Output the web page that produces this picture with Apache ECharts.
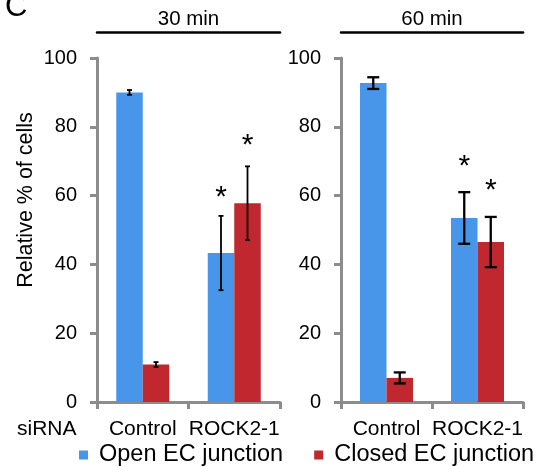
<!DOCTYPE html>
<html><head><meta charset="utf-8">
<script src="https://cdn.jsdelivr.net/npm/echarts@6/dist/echarts.min.js"></script>
<style>html,body{margin:0;padding:0;background:#fff}#c{width:544px;height:467px}</style>
</head><body><div id="c"></div>
<script>
const categories = ['Control', 'ROCK2-1'];
const panelTitles = ['30 min', '60 min'];
const seriesNames = ['Open EC junction', 'Closed EC junction'];
// 30 min
const open30 = [90.0, 43.3];
const openErr30 = [0.7, 10.8];
const closed30 = [10.9, 57.8];
const closedErr30 = [0.7, 10.7];
const starOpen30 = [null, 60.6];
const starClosed30 = [null, 75.6];
// 60 min
const open60 = [92.7, 53.5];
const openErr60 = [1.7, 7.5];
const closed60 = [7.0, 46.5];
const closedErr60 = [1.6, 7.3];
const starOpen60 = [null, 69.5];
const starClosed60 = [null, 62.7];
// y axis
const yMin = 0, yMax = 100, yStep = 20;

const BLUE = '#4896E9', RED = '#C1272E', AXIS = '#8C8C8C';
const FONT = '"Liberation Sans", Arial, sans-serif';
const BARW = 26.5;

function errSeries(gi, vals, errs, sign, cap, lw) {
  return {
    type: 'custom', xAxisIndex: gi, yAxisIndex: gi, z: 5, silent: true,
    data: vals.map((v, i) => [i, v, errs[i]]),
    renderItem: function (params, api) {
      const i = api.value(0), v = api.value(1), e = api.value(2);
      const hi = api.coord([i, v + e]), lo = api.coord([i, v - e]);
      const x = hi[0] + sign * BARW / 2;
      const st = { stroke: '#000', lineWidth: lw };
      return { type: 'group', children: [
        { type: 'line', shape: { x1: x, y1: hi[1], x2: x, y2: lo[1] }, style: st },
        { type: 'line', shape: { x1: x - cap, y1: hi[1], x2: x + cap, y2: hi[1] }, style: st },
        { type: 'line', shape: { x1: x - cap, y1: lo[1], x2: x + cap, y2: lo[1] }, style: st }
      ]};
    }
  };
}
function starSeries(gi, vals, sign) {
  return {
    type: 'custom', xAxisIndex: gi, yAxisIndex: gi, z: 6, silent: true,
    data: vals.map((v, i) => [i, v]).filter(d => d[1] != null),
    renderItem: function (params, api) {
      const p = api.coord([api.value(0), api.value(1)]);
      return { type: 'text', x: p[0] + sign * BARW / 2, y: p[1] + 4,
        style: { text: '*', fontSize: 30, fontFamily: FONT, fill: '#000', align: 'center', verticalAlign: 'middle', textAlign: 'center', textVerticalAlign: 'middle' } };
    }
  };
}
function barSeries(gi, name, vals, color) {
  return { type: 'bar', name: name, xAxisIndex: gi, yAxisIndex: gi, data: vals,
    barWidth: BARW, barGap: '0%', itemStyle: { color: color }, z: 2 };
}

const grids = [
  { left: 97, top: 58, width: 183, bottom: 65 },
  { left: 341, top: 58, width: 182, bottom: 65 }
];
const xAxes = [], yAxes = [];
[0, 1].forEach(gi => {
  xAxes.push({
    type: 'category', gridIndex: gi, data: categories,
    axisLine: { show: true, lineStyle: { color: AXIS, width: 3 } },
    axisTick: { show: true, length: 7, lineStyle: { color: AXIS, width: 3 } },
    axisLabel: { color: '#000', fontSize: 21, fontFamily: FONT, margin: 17, interval: 0, hideOverlap: false }
  });
  yAxes.push({
    type: 'value', gridIndex: gi, min: yMin, max: yMax, interval: yStep,
    axisLine: { show: true, lineStyle: { color: AXIS, width: 3 } },
    axisTick: { show: true, length: 7, lineStyle: { color: AXIS, width: 3 } },
    axisLabel: { color: '#000', fontSize: 20, fontFamily: FONT, margin: 20 },
    splitLine: { show: false }
  });
});
[0, 1].forEach(gi => {
  xAxes.push({
    type: 'category', gridIndex: gi, data: categories, position: 'top', offset: 26,
    axisLine: { show: true, lineStyle: { color: '#000', width: 2.5 } },
    axisTick: { show: false }, axisLabel: { show: false },
    name: panelTitles[gi], nameLocation: 'middle', nameGap: 2,
    nameTextStyle: { color: '#000', fontSize: 20.5, fontFamily: FONT }
  });
});

const option = {
  animation: false,
  backgroundColor: '#fff',
  textStyle: { fontFamily: FONT },
  grid: grids,
  xAxis: xAxes,
  yAxis: yAxes,
  legend: {
    data: seriesNames, left: 79, top: 443, padding: 0, icon: 'rect', itemWidth: 9, itemHeight: 9,
    itemGap: 31, selectedMode: false,
    textStyle: { color: '#000', fontSize: 23.5, fontFamily: FONT, padding: [0, 0, 0, 6] }
  },
  graphic: [
    { type: 'text', left: 5, top: -8, style: { text: 'C', fontSize: 31, fontFamily: FONT, fill: '#000' } },
    { type: 'text', x: 26, y: 200, rotation: Math.PI / 2,
      style: { text: 'Relative % of cells', fontSize: 21.5, fontFamily: FONT, fill: '#000', align: 'center', verticalAlign: 'middle', textAlign: 'center', textVerticalAlign: 'middle' } },
    { type: 'text', left: 17, top: 419, style: { text: 'siRNA', fontSize: 21, fontFamily: FONT, fill: '#000' } }
  ],
  series: [
    barSeries(0, seriesNames[0], open30, BLUE),
    barSeries(0, seriesNames[1], closed30, RED),
    errSeries(0, open30, openErr30, -1, 2.5, 1.8),
    errSeries(0, closed30, closedErr30, 1, 2.5, 1.8),
    starSeries(0, starOpen30, -1),
    starSeries(0, starClosed30, 1),
    barSeries(1, seriesNames[0], open60, BLUE),
    barSeries(1, seriesNames[1], closed60, RED),
    errSeries(1, open60, openErr60, -1, 6, 2.3),
    errSeries(1, closed60, closedErr60, 1, 6, 2.3),
    starSeries(1, starOpen60, -1),
    starSeries(1, starClosed60, 1)
  ]
};
const chart = echarts.init(document.getElementById('c'), null, { renderer: 'canvas' });
chart.setOption(option);
</script>
</body></html>
